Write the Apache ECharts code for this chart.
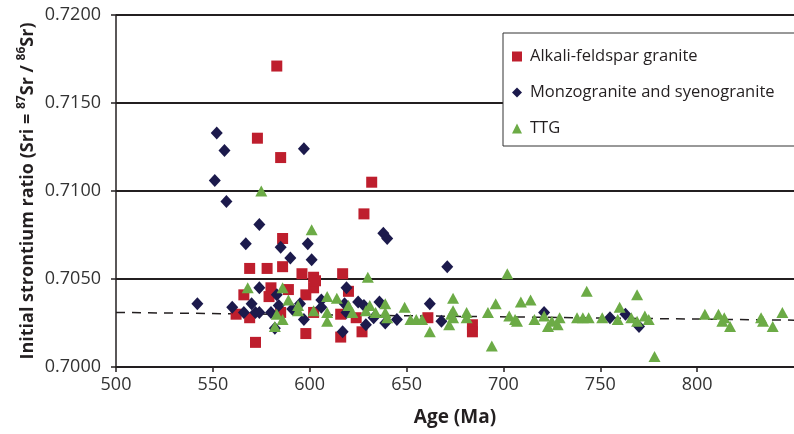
<!DOCTYPE html>
<html>
<head>
<meta charset="utf-8">
<script src="https://cdn.jsdelivr.net/npm/echarts@6/dist/echarts.min.js"></script>
<style>
  html, body { margin: 0; padding: 0; background: #fff; }
  #chart { width: 794px; height: 434px; }
</style>
</head>
<body>
<div id="chart"></div>
<script>
// [age (Ma), initial 87Sr/86Sr]
var alkali = [
  [583, 0.7171], [573, 0.7130], [585, 0.7119], [632, 0.7105], [628, 0.7087],
  [586, 0.7073], [569, 0.7056], [578, 0.7056], [586, 0.7057], [596, 0.7053],
  [602, 0.7051], [602, 0.7045], [603, 0.7049], [617, 0.7053], [620, 0.7043],
  [566, 0.7041], [580, 0.7045], [579, 0.7040], [589, 0.7044], [598, 0.7041],
  [562, 0.7030], [569, 0.7028], [585, 0.7031], [602, 0.7031], [616, 0.7030],
  [624, 0.7028], [598, 0.7019], [572, 0.7014], [616, 0.7017], [627, 0.7020],
  [661, 0.7028], [684, 0.7024], [684, 0.7020]
];
var monzo = [
  [552, 0.7133], [556, 0.7123], [597, 0.7124], [551, 0.7106], [557, 0.7094],
  [574, 0.7081], [567, 0.7070], [585, 0.7068], [599, 0.7070], [590, 0.7062],
  [601, 0.7061], [638, 0.7076], [640, 0.7073], [671, 0.7057], [542, 0.7036],
  [574, 0.7045], [570, 0.7036], [560, 0.7034], [566, 0.7031], [572, 0.7031],
  [580, 0.7031], [583, 0.7041], [584, 0.7035], [591, 0.7033], [595, 0.7036],
  [597, 0.7027], [582, 0.7022], [574, 0.7031], [606, 0.7038], [606, 0.7034],
  [619, 0.7045], [618, 0.7036], [619, 0.7031], [625, 0.7037], [628, 0.7035],
  [629, 0.7024], [617, 0.7020], [633, 0.7028], [636, 0.7037], [639, 0.7025],
  [645, 0.7027], [662, 0.7036], [668, 0.7026], [721, 0.7031], [755, 0.7028],
  [763, 0.7030], [770, 0.7023]
];
var ttg = [
  [575, 0.7100], [601, 0.7078], [568, 0.7045], [586, 0.7045], [589, 0.7038],
  [594, 0.7035], [594, 0.7032], [602, 0.7032], [583, 0.7030], [586, 0.7027],
  [582, 0.7023], [630, 0.7051], [609, 0.7040], [614, 0.7039], [609, 0.7031],
  [620, 0.7035], [622, 0.7031], [631, 0.7035], [629, 0.7032], [634, 0.7031],
  [639, 0.7036], [639, 0.7031], [640, 0.7028], [649, 0.7034], [652, 0.7027],
  [655, 0.7027], [658, 0.7027], [662, 0.7020], [609, 0.7026], [674, 0.7039],
  [674, 0.7032], [673, 0.7030], [672, 0.7024], [674, 0.7028], [681, 0.7031],
  [681, 0.7028], [696, 0.7036], [692, 0.7031], [694, 0.7012], [702, 0.7053],
  [703, 0.7029], [706, 0.7027], [707, 0.7026], [709, 0.7037], [714, 0.7038],
  [716, 0.7027], [721, 0.7029], [723, 0.7023], [728, 0.7024], [729, 0.7028],
  [725, 0.7026], [743, 0.7043], [738, 0.7028], [741, 0.7028], [744, 0.7028],
  [751, 0.7028], [759, 0.7027], [760, 0.7034], [766, 0.7028], [769, 0.7041],
  [769, 0.7026], [773, 0.7029], [775, 0.7027], [778, 0.7006], [804, 0.7030],
  [811, 0.7030], [814, 0.7028], [813, 0.7026], [817, 0.7023], [833, 0.7028],
  [834, 0.7026], [839, 0.7023], [844, 0.7031]
];
var trendAge = [500, 850];
var trendSr = [0.7031, 0.70266];

var ink = '#231F20';
var font = 'Open Sans';

var chart = echarts.init(document.getElementById('chart'), null, { renderer: 'canvas' });
chart.setOption({
  animation: false,
  backgroundColor: '#fff',
  textStyle: { fontFamily: font },
  grid: { left: 116, right: -13, top: 15, bottom: 67 },
  legend: {
    data: ['Alkali-feldspar granite', 'Monzogranite and syenogranite', 'TTG'],
    orient: 'vertical',
    left: 503,
    top: 33,
    padding: [15, 30, 9, 9],
    itemGap: 19,
    itemWidth: 10,
    itemHeight: 10,
    backgroundColor: '#fff',
    borderColor: '#333',
    borderWidth: 1,
    borderRadius: 0,
    textStyle: { color: ink, fontSize: 16.5, fontFamily: font, padding: [0, 0, 0, 3] }
  },
  xAxis: {
    type: 'value',
    min: 500,
    max: 850,
    interval: 50,
    name: 'Age (Ma)',
    nameLocation: 'middle',
    nameGap: 41,
    nameMoveOverlap: false,
    nameTextStyle: { color: ink, fontSize: 19, fontWeight: 'bold', fontFamily: font },
    axisLine: { show: true, lineStyle: { color: ink, width: 1.5 } },
    axisTick: { show: true, length: 5, lineStyle: { color: ink, width: 1.5 } },
    axisLabel: { color: '#333', fontSize: 18, margin: 9, showMaxLabel: false },
    splitLine: { show: false }
  },
  yAxis: {
    type: 'value',
    min: 0.7,
    max: 0.72,
    interval: 0.005,
    name: 'Initial strontium ratio (Sri = {sup|87}Sr / {sup|86}Sr)',
    nameLocation: 'middle',
    nameRotate: 90,
    nameGap: 76,
    nameMoveOverlap: false,
    nameTextStyle: {
      color: ink, fontSize: 18, fontWeight: 'bold', fontFamily: font, lineHeight: 24,
      rich: {
        sup: { fontSize: 12, fontWeight: 'bold', color: ink, verticalAlign: 'top', lineHeight: 24, fontFamily: font }
      }
    },
    axisLine: { show: true, lineStyle: { color: ink, width: 1.5 } },
    axisTick: { show: true, length: 5, lineStyle: { color: ink, width: 1.5 } },
    axisLabel: {
      color: '#333', fontSize: 18, margin: 15,
      formatter: function(v) { return v.toFixed(4); }
    },
    splitLine: { show: true, lineStyle: { color: ink, width: 1.8 } }
  },
  series: [
    {
      name: 'trend',
      type: 'line',
      silent: true,
      symbol: 'none',
      z: 1,
      data: [[trendAge[0], trendSr[0]], [trendAge[1], trendSr[1]]],
      lineStyle: { color: ink, width: 1.5, type: [9, 7] }
    },
    {
      name: 'Alkali-feldspar granite',
      type: 'scatter',
      symbol: 'rect',
      symbolSize: 11,
      z: 2,
      itemStyle: { color: '#BE1E2D', opacity: 1 },
      data: alkali
    },
    {
      name: 'Monzogranite and syenogranite',
      type: 'scatter',
      symbol: 'diamond',
      symbolSize: [12, 13],
      z: 3,
      itemStyle: { color: '#1C1A4C', opacity: 1 },
      data: monzo
    },
    {
      name: 'TTG',
      type: 'scatter',
      symbol: 'triangle',
      symbolSize: [12, 11],
      z: 4,
      itemStyle: { color: '#6CAB46', opacity: 1 },
      data: ttg
    }
  ]
});
</script>
</body>
</html>
